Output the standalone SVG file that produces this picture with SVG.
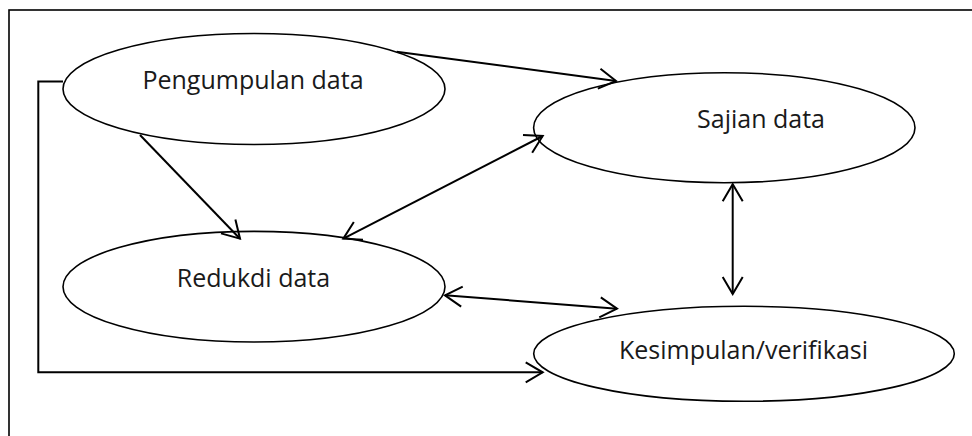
<svg xmlns="http://www.w3.org/2000/svg" width="972" height="436" viewBox="0 0 972 436">
<style>
.node ellipse{fill:#fff;stroke:#000;stroke-width:1.6}
.node text{font-family:"Open Sans","Liberation Sans",sans-serif;font-size:25px;fill:#1a1a1a;text-anchor:middle}
.conn{fill:none;stroke:#000;stroke-width:2}
</style>
<defs>
<marker id="arr" viewBox="-1 -12 20 24" refX="17" refY="0" markerWidth="20" markerHeight="24" markerUnits="userSpaceOnUse" orient="auto-start-reverse">
<path d="M0,-10 L17,0 L0,10" fill="none" stroke="#000" stroke-width="2"/>
</marker>
</defs>
<rect width="972" height="436" fill="#fff"/>
<rect id="frame" x="9" y="10" width="975" height="440" fill="none" stroke="#000" stroke-width="1.6"/>
<g id="n-pengumpulan" class="node">
<ellipse cx="254" cy="89" rx="191" ry="55.5"/>
<text x="253" y="89">Pengumpulan data</text>
</g>
<g id="n-sajian" class="node">
<ellipse cx="724.3" cy="127.7" rx="190.7" ry="55"/>
<text x="761" y="128">Sajian data</text>
</g>
<g id="n-redukdi" class="node">
<ellipse cx="254" cy="286.7" rx="191" ry="55.3"/>
<text x="253.5" y="286.5">Redukdi data</text>
</g>
<g id="n-kesimpulan" class="node">
<ellipse cx="744" cy="353.8" rx="210.3" ry="47.5"/>
<text x="743.5" y="358.5">Kesimpulan/verifikasi</text>
</g>
<g id="connectors">
<path class="conn" d="M396.7,51.7 L616,81" marker-end="url(#arr)"/>
<path class="conn" d="M140,135 L240,238.7" marker-end="url(#arr)"/>
<path class="conn" d="M343.3,238.7 L542.7,136" marker-start="url(#arr)" marker-end="url(#arr)"/>
<path class="conn" d="M732.7,184.3 L732.7,294" marker-start="url(#arr)" marker-end="url(#arr)"/>
<path class="conn" d="M445,295.3 L617,308.7" marker-start="url(#arr)" marker-end="url(#arr)"/>
<path class="conn" d="M63,81.5 L38.3,81.5 L38.3,372.3 L542.7,372.3" marker-end="url(#arr)"/>
</g>
</svg>
